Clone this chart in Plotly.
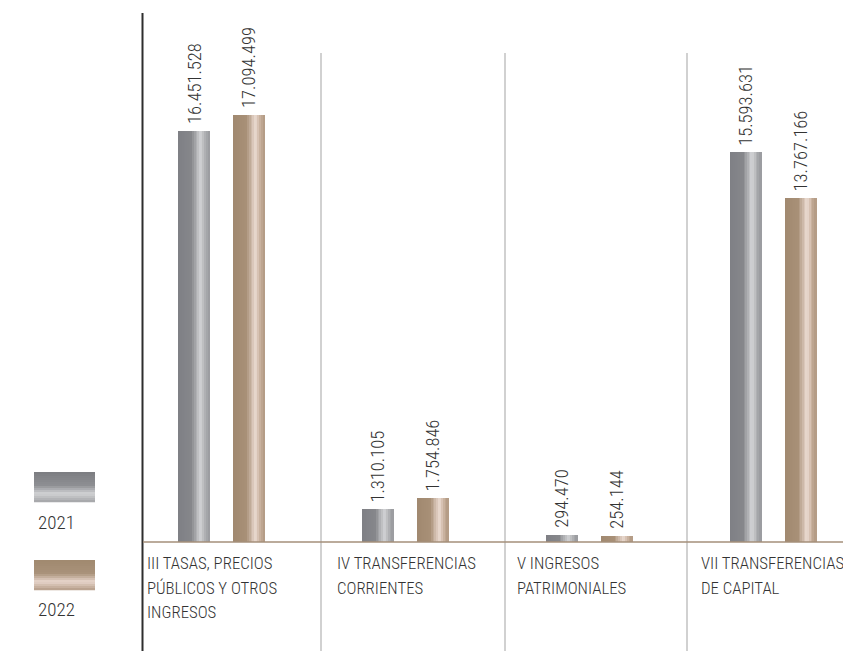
import plotly.graph_objects as go

# ---- data ----
categories = [
    "III TASAS, PRECIOS<br>PÚBLICOS Y OTROS<br>INGRESOS",
    "IV TRANSFERENCIAS<br>CORRIENTES",
    "V INGRESOS<br>PATRIMONIALES",
    "VII TRANSFERENCIAS<br>DE CAPITAL",
]
years = ["2021", "2022"]
values_2021 = [16451528, 1310105, 294470, 15593631]
values_2022 = [17094499, 1754846, 254144, 13767166]

# ---- layout constants ----
W, H = 843, 651
FONT = "Roboto Condensed, Liberation Sans Narrow, sans-serif"
TXT = "#333333"
PX_PER_CAT = 183.8
CENTER0_PX = 222.0
BASE_PX = 542.0
PX_PER_UNIT = 411.0 / 16451528

x_lo = -CENTER0_PX / PX_PER_CAT
x_hi = (W - CENTER0_PX) / PX_PER_CAT
y_hi = BASE_PX / PX_PER_UNIT
y_lo = -(H - BASE_PX) / PX_PER_UNIT

bar_off = 27.5 / PX_PER_CAT
bar_w = 31.0 / PX_PER_CAT

grad_2021 = [(0.0, (0x7f, 0x80, 0x85)), (0.42, (0x86, 0x87, 0x8b)),
             (0.72, (0xd4, 0xd5, 0xd7)), (0.88, (0xaa, 0xab, 0xae)), (1.0, (0x98, 0x99, 0x9d))]
grad_2022 = [(0.0, (0xa0, 0x89, 0x6f)), (0.42, (0xa8, 0x90, 0x77)),
             (0.72, (0xec, 0xdc, 0xd3)), (0.88, (0xc4, 0xac, 0x98)), (1.0, (0xb0, 0x98, 0x82))]


def interp(stops, t):
    for (t0, c0), (t1, c1) in zip(stops[:-1], stops[1:]):
        if t0 <= t <= t1:
            f = (t - t0) / (t1 - t0) if t1 > t0 else 0
            c = [round(a + (b - a) * f) for a, b in zip(c0, c1)]
            return "rgb(%d,%d,%d)" % tuple(c)
    return "rgb(%d,%d,%d)" % stops[-1][1]


def fmt(v):
    return f"{v:,}".replace(",", ".")


fig = go.Figure()
N = 18
idx = list(range(len(categories)))
for vals, off, grad in [(values_2021, -bar_off, grad_2021), (values_2022, bar_off, grad_2022)]:
    sw = bar_w / N
    for k in range(N):
        t = (k + 0.5) / N
        fig.add_trace(go.Bar(
            x=[i + off - bar_w / 2 + (k + 0.5) * sw for i in idx],
            y=vals,
            width=sw * 1.15,
            marker=dict(color=interp(grad, t), line=dict(width=0)),
            hoverinfo="skip",
            showlegend=False,
        ))
    for i, v in zip(idx, vals):
        fig.add_annotation(
            x=i + off, y=v, xref="x", yref="y",
            text=fmt(v), textangle=-90, showarrow=False,
            xanchor="center", yanchor="bottom", yshift=5,
            font=dict(family=FONT, size=18.5, color=TXT, weight=300),
        )

shapes = []
# left axis line
shapes.append(dict(type="line", xref="paper", yref="paper",
                   x0=142.5 / W, x1=142.5 / W, y0=1 - 13 / H, y1=0,
                   line=dict(color="#2e2e2e", width=2)))
# separators
for sx in [321, 505, 687]:
    shapes.append(dict(type="line", xref="paper", yref="paper",
                       x0=sx / W, x1=sx / W, y0=1 - 53 / H, y1=0,
                       line=dict(color="#c6c6c6", width=1.6)))
# baseline
shapes.append(dict(type="line", xref="paper", yref="y",
                   x0=143 / W, x1=1, y0=0, y1=0,
                   line=dict(color="#a48f7a", width=1.5)))

# legend swatches (vertical gradient)
leg_grad_2021 = [(0.0, (0x7c, 0x7d, 0x81)), (0.45, (0x8e, 0x8f, 0x93)),
                 (0.72, (0xd2, 0xd3, 0xd5)), (1.0, (0xa2, 0xa3, 0xa7))]
leg_grad_2022 = [(0.0, (0xa0, 0x89, 0x6f)), (0.45, (0xa9, 0x92, 0x7a)),
                 (0.72, (0xe8, 0xd6, 0xcc)), (1.0, (0xb4, 0x9c, 0x88))]
for top, grad in [(472, leg_grad_2021), (560, leg_grad_2022)]:
    M = 15
    h = 30.0 / M
    for k in range(M):
        y0 = top + k * h
        shapes.append(dict(type="rect", xref="paper", yref="paper",
                           x0=34 / W, x1=95 / W,
                           y0=1 - (y0 + h + 0.3) / H, y1=1 - y0 / H,
                           line=dict(width=0), fillcolor=interp(grad, (k + 0.5) / M)))

annotations = []
for name, cy in zip(years, [522, 609]):
    annotations.append(dict(x=36 / W, y=1 - cy / H, xref="paper", yref="paper",
                            text=name, showarrow=False, xanchor="left", yanchor="middle",
                            font=dict(family=FONT, size=19, color=TXT, weight=300)))
label_px = [145, 335, 515, 699]
LINE_PX = 24.5
for lbl, lx in zip(categories, label_px):
    for j, line in enumerate(lbl.split("<br>")):
        annotations.append(dict(x=lx / W, y=1 - (563 + j * LINE_PX) / H, xref="paper", yref="paper",
                                text=line, showarrow=False, xanchor="left", yanchor="middle",
                                align="left",
                                font=dict(family=FONT, size=16.8, color=TXT, weight=300)))
for a in annotations:
    fig.add_annotation(**a)

fig.update_layout(
    width=W, height=H,
    margin=dict(l=0, r=0, t=0, b=0),
    paper_bgcolor="white", plot_bgcolor="white",
    barmode="overlay", bargap=0,
    showlegend=False,
    shapes=shapes,
    xaxis=dict(range=[x_lo, x_hi], visible=False, fixedrange=True),
    yaxis=dict(range=[y_lo, y_hi], visible=False, fixedrange=True),
)

fig.write_html("out.html", post_script="document.body.style.margin='0';",
               config={"displayModeBar": False})
